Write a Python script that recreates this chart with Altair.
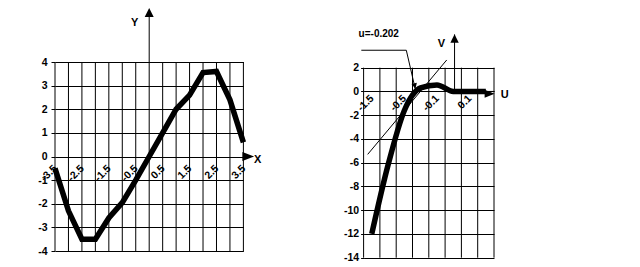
import json
import altair as alt
import pandas as pd

# ---------------- left panel data ----------------
X_VALS = [-3.5, -3.0, -2.5, -2.0, -1.5, -1.0, -0.5, 0.0, 0.5, 1.0, 1.5, 2.0, 2.5, 3.0, 3.5]
Y_VALS = [-0.5, -2.3, -3.5, -3.5, -2.6, -1.95, -1.0, 0.0, 1.0, 2.0, 2.6, 3.55, 3.6, 2.4, 0.6]
X_TICKS = [-3.5, -2.5, -1.5, -0.5, 0.5, 1.5, 2.5, 3.5]
X_TICK_LABELS = ["-3.5", "-2.5", "-1.5", "-0.5", "0.5", "1.5", "2.5", "3.5"]
X_GRID = [-3.5, -3.0, -2.5, -2.0, -1.5, -1.0, -0.5, 0.0, 0.5, 1.0, 1.5, 2.0, 2.5, 3.0, 3.5]
Y_TICKS = [-4, -3, -2, -1, 0, 1, 2, 3, 4]

# ---------------- right panel data ----------------
U_POS = [0, 1, 2, 3, 4, 5, 6, 7]
V_VALS = [-12.0, -6.2, -1.6, 0.3, 0.55, 0.0, 0.0, 0.0]
U_TICKS = [0, 2, 4, 6]
U_TICK_LABELS = ["-1.5", "-0.5", "-0.1", "0.1"]
U_GRID = [-0.5, 0.5, 1.5, 2.5, 3.5, 4.5, 5.5, 6.5, 7.5]
V_TICKS = [-14, -12, -10, -8, -6, -4, -2, 0, 2]
TANGENT_U = [-0.25, 4.6]
TANGENT_V = [-5.3, 2.65]
ROOT_TEXT = "u=-0.202"

FONT = "Liberation Sans"
L_W, L_H = 188.4, 189
R_W, R_H = 130.4, 195.7
R_VTOP = 2.48

lx = alt.Scale(domain=[-3.5, 3.5], nice=False, zero=False)
ly = alt.Scale(domain=[-4, 4], nice=False, zero=False)
rx = alt.Scale(domain=[-0.5, 7.5], nice=False, zero=False)
ry = alt.Scale(domain=[-14, R_VTOP], nice=False, zero=False)

minus_fix = "replace(datum.label, '\u2212', '-')"
lab = dict(labelFont=FONT, labelFontSize=10.5, labelFontWeight="bold", labelColor="black")
txt = dict(font=FONT, fontSize=11, fontWeight="bold", color="black")

zero_from_top = R_VTOP / (R_VTOP + 14) * R_H

LX_AXIS = alt.Axis(
    values=X_TICKS,
    labelExpr=f"{json.dumps(X_TICK_LABELS)}[round(datum.value + 3.5)]",
    labelAngle=-45, labelAlign="right", labelBaseline="middle",
    grid=False, domain=False, ticks=False, labelPadding=10,
    offset=-L_H / 2, title=None, **lab)
LY_AXIS = alt.Axis(
    values=Y_TICKS, grid=True, gridColor="black", gridOpacity=1, gridWidth=1,
    tickSize=4, tickColor="black", domain=False, labelPadding=4,
    labelExpr=minus_fix, title=None, **lab)
RX_AXIS = alt.Axis(
    values=U_TICKS,
    labelExpr=f"{json.dumps(U_TICK_LABELS)}[round(datum.value / 2)]",
    labelAngle=-45, labelAlign="right", labelBaseline="middle",
    grid=False, domain=False, ticks=False, labelPadding=5,
    offset=-(R_H - zero_from_top), title=None, **lab)
RY_AXIS = alt.Axis(
    values=V_TICKS, grid=True, gridColor="black", gridOpacity=1, gridWidth=1,
    tickSize=3, tickColor="black", domain=False, labelPadding=2,
    labelExpr=minus_fix, title=None, **lab)


def LX(f):
    return alt.X(f, scale=lx, axis=LX_AXIS)


def LY(f):
    return alt.Y(f, scale=ly, axis=LY_AXIS)


def RX(f):
    return alt.X(f, scale=rx, axis=RX_AXIS)


def RY(f):
    return alt.Y(f, scale=ry, axis=RY_AXIS)


# ================= LEFT =================
left_grid = alt.Chart(pd.DataFrame({"x": X_GRID, "y": [-4] * len(X_GRID), "y2": [4] * len(X_GRID)})).mark_rule(
    color="black", strokeWidth=1
).encode(x=LX("x:Q"), y=LY("y:Q"), y2="y2:Q")

left_line = alt.Chart(pd.DataFrame({"x": X_VALS, "y": Y_VALS})).mark_line(
    color="black", strokeWidth=5.5
).encode(x=LX("x:Q"), y=LY("y:Q"))

left_arrows = alt.Chart(pd.DataFrame({"x": [0, 3.5], "x2": [0, 3.68], "y": [4, 0], "y2": [6.1, 0]})).mark_rule(
    color="black", strokeWidth=1
).encode(x=LX("x:Q"), x2="x2:Q", y=LY("y:Q"), y2="y2:Q")

left_head_up = alt.Chart(pd.DataFrame({"x": [0], "y": [6.1]})).mark_point(
    shape="M0,-1L1,1L-1,1Z", size=81, filled=True, color="black", opacity=1
).encode(x=LX("x:Q"), y=LY("y:Q"))

left_head_right = alt.Chart(pd.DataFrame({"x": [3.68], "y": [0]})).mark_point(
    shape="M-1,-0.75L1,0L-1,0.75Z", size=137, filled=True, color="black", opacity=1
).encode(x=LX("x:Q"), y=LY("y:Q"))

left_text = alt.Chart(pd.DataFrame({"x": [-0.54, 4.03], "y": [5.63, -0.13], "t": ["Y", "X"]})).mark_text(**txt).encode(
    x=LX("x:Q"), y=LY("y:Q"), text="t:N")

left = alt.layer(left_grid, left_line, left_arrows, left_head_up, left_head_right, left_text).properties(
    width=L_W, height=L_H)

# ================= RIGHT =================
right_grid = alt.Chart(pd.DataFrame({"x": U_GRID, "y": [-14] * len(U_GRID), "y2": [2] * len(U_GRID)})).mark_rule(
    color="black", strokeWidth=1
).encode(x=RX("x:Q"), y=RY("y:Q"), y2="y2:Q")

right_line = alt.Chart(pd.DataFrame({"x": U_POS, "y": V_VALS})).mark_line(
    color="black", strokeWidth=5.5, interpolate="monotone"
).encode(x=RX("x:Q"), y=RY("y:Q"))

right_thin = alt.Chart(pd.DataFrame({
    "x": [TANGENT_U[0], 5.08, 7.0, -0.64, 2.12],
    "x2": [TANGENT_U[1], 5.08, 7.52, 2.12, 2.67],
    "y": [TANGENT_V[0], 0.0, 0.0, 3.47, 3.47],
    "y2": [TANGENT_V[1], 4.8, 0.0, 3.47, 0.21],
})).mark_rule(color="black", strokeWidth=1).encode(x=RX("x:Q"), x2="x2:Q", y=RY("y:Q"), y2="y2:Q")

right_head_up = alt.Chart(pd.DataFrame({"x": [5.08], "y": [4.46]})).mark_point(
    shape="M0,-1L1,1L-1,1Z", size=70, filled=True, color="black", opacity=1
).encode(x=RX("x:Q"), y=RY("y:Q"))

right_head_right = alt.Chart(pd.DataFrame({"x": [7.23], "y": [-0.2]})).mark_point(
    shape="M-1,-0.8L1,0L-1,0.8Z", size=100, filled=True, color="black", opacity=1
).encode(x=RX("x:Q"), y=RY("y:Q"))

right_head_small = alt.Chart(pd.DataFrame({"x": [2.64], "y": [0.45]})).mark_point(
    shape="M-1,-1L1,-1L0,1Z", size=30, angle=347, filled=True, color="black", opacity=1
).encode(x=RX("x:Q"), y=RY("y:Q"))

right_letters = alt.Chart(pd.DataFrame({
    "x": [4.27, 8.15], "y": [3.97, -0.32], "t": ["V", "U"]
})).mark_text(**txt).encode(x=RX("x:Q"), y=RY("y:Q"), text="t:N")

right_note = alt.Chart(pd.DataFrame({"x": [0.43], "y": [4.81], "t": [ROOT_TEXT]})).mark_text(
    font=FONT, fontSize=10, fontWeight="bold", color="black"
).encode(x=RX("x:Q"), y=RY("y:Q"), text="t:N")

right = alt.layer(right_grid, right_line, right_thin, right_head_up, right_head_right,
                  right_head_small, right_letters, right_note).properties(width=R_W, height=R_H)

chart = alt.hconcat(left, right, spacing=119.6, bounds="flush").properties(
    padding={"left": 37, "top": 7, "right": 5, "bottom": 5},
    background="white",
).configure_view(strokeWidth=0)

chart.save("out.html", embed_options={"renderer": "svg", "actions": False})
